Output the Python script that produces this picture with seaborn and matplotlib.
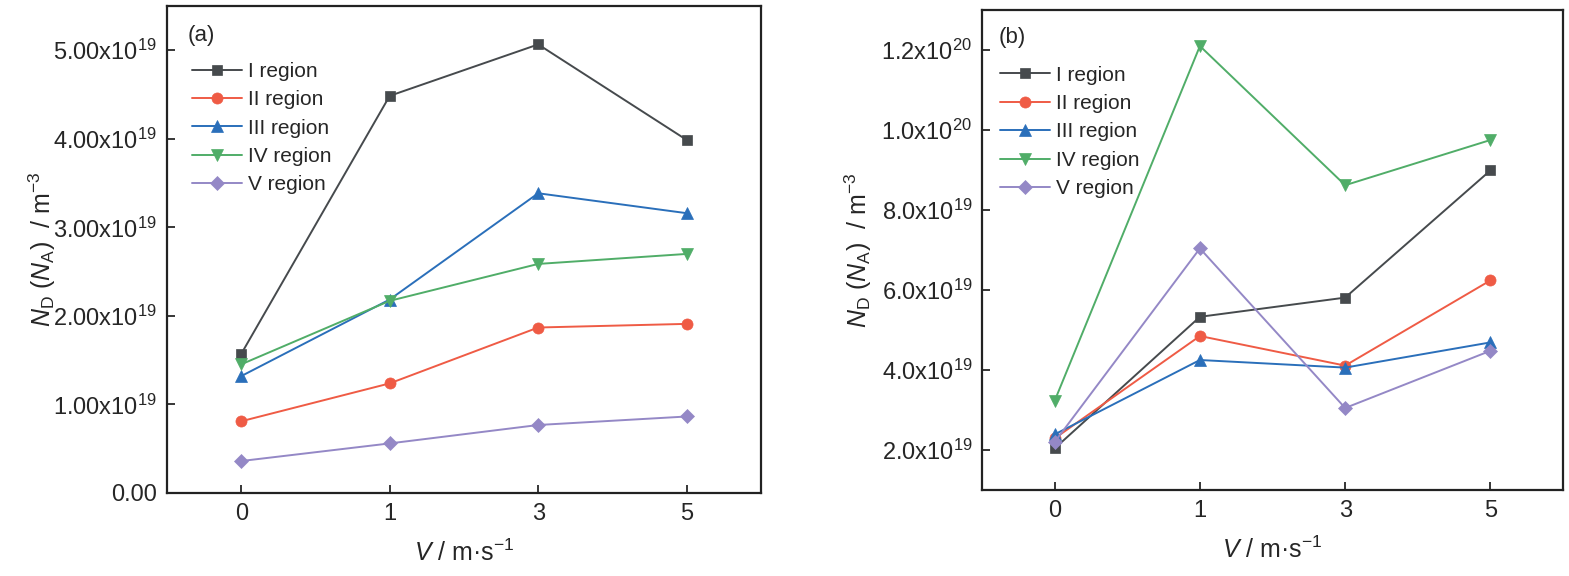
import numpy as np
import pandas as pd
import matplotlib
matplotlib.use("Agg")
import matplotlib.pyplot as plt
import seaborn as sns

# ---------------------------------------------------------------
# data
# ---------------------------------------------------------------
speeds = ["0", "1", "3", "5"]
regions = ["I region", "II region", "III region", "IV region", "V region"]

nd_a_I = [1.57e19, 4.485e19, 5.066e19, 3.987e19]
nd_a_II = [0.81e19, 1.238e19, 1.869e19, 1.91e19]
nd_a_III = [1.32e19, 2.185e19, 3.385e19, 3.16e19]
nd_a_IV = [1.453e19, 2.17e19, 2.587e19, 2.70e19]
nd_a_V = [0.361e19, 0.56e19, 0.768e19, 0.864e19]

nd_b_I = [2.04e19, 5.33e19, 5.81e19, 8.99e19]
nd_b_II = [2.29e19, 4.85e19, 4.11e19, 6.24e19]
nd_b_III = [2.39e19, 4.25e19, 4.06e19, 4.69e19]
nd_b_IV = [3.23e19, 12.1e19, 8.62e19, 9.75e19]
nd_b_V = [2.2e19, 7.04e19, 3.05e19, 4.48e19]

yticks_a = [0, 1e19, 2e19, 3e19, 4e19, 5e19]
yticks_b = [2e19, 4e19, 6e19, 8e19, 1.0e20, 1.2e20]

colors = ["#464a4d", "#ef5b45", "#2a6fba", "#50ad68", "#9488c6"]
markers = ["s", "o", "^", "v", "D"]
msizes = [7, 8, 8, 8, 7]


def sci_label(v, decimals):
    if v == 0:
        return "0." + "0" * decimals
    exp = int(np.floor(np.log10(abs(v))))
    mant = v / 10 ** exp
    return f"{mant:.{decimals}f}x10$^{{{exp}}}$"


def long_frame(series):
    rows = []
    for name, vals in zip(regions, series):
        for i, (s, v) in enumerate(zip(speeds, vals)):
            rows.append({"region": name, "pos": i, "speed": s, "nd": v})
    return pd.DataFrame(rows)


def draw_panel(ax, df, tag, yticks, ylim, decimals, tag_xy, leg_xy, ypad):
    for name, c, m, ms in zip(regions, colors, markers, msizes):
        sns.lineplot(data=df[df["region"] == name], x="pos", y="nd", ax=ax,
                     color=c, marker=m, markersize=ms, markeredgecolor=c,
                     markeredgewidth=0.5, linewidth=1.4, label=name)
    ax.set_xlim(-0.5, 3.5)
    ax.set_ylim(*ylim)
    ax.set_xticks(range(len(speeds)))
    ax.set_xticklabels(speeds)
    ax.set_yticks(yticks)
    ax.set_yticklabels([sci_label(v, decimals) for v in yticks])
    ax.tick_params(direction="in", length=6, width=1.3, labelsize=17, pad=7)
    for sp in ax.spines.values():
        sp.set_visible(True)
        sp.set_linewidth(1.6)
        sp.set_color("#222222")
    ax.set_xlabel("$V$ / m·s$^{-1}$", fontsize=18, labelpad=11)
    ax.set_ylabel("$N_\\mathrm{D}$ ($N_\\mathrm{A}$)  / m$^{-3}$", fontsize=18, labelpad=ypad)
    ax.text(tag_xy[0], tag_xy[1], tag, transform=ax.transAxes, fontsize=16, va="center")
    ax.legend(loc="upper left", bbox_to_anchor=leg_xy, frameon=False,
              fontsize=15, handlelength=2.4, handletextpad=0.3, labelspacing=0.45,
              borderaxespad=0.0, borderpad=0.0)


sns.set_style("ticks")
plt.rcParams["font.family"] = ["Liberation Sans", "DejaVu Sans"]
plt.rcParams["mathtext.fontset"] = "custom"
plt.rcParams["mathtext.rm"] = "Liberation Sans"
plt.rcParams["mathtext.it"] = "Liberation Sans:italic"
plt.rcParams["mathtext.bf"] = "Liberation Sans:bold"

fig = plt.figure(figsize=(15.69, 5.76), dpi=100)
ax_a = fig.add_axes([0.1064, 0.1441, 0.3786, 0.8455])
ax_b = fig.add_axes([0.6259, 0.1493, 0.3703, 0.8333])

df_a = long_frame([nd_a_I, nd_a_II, nd_a_III, nd_a_IV, nd_a_V])
df_b = long_frame([nd_b_I, nd_b_II, nd_b_III, nd_b_IV, nd_b_V])

draw_panel(ax_a, df_a, "(a)", yticks_a, (0, 5.5e19), 2,
           (0.034, 0.94), (0.042, 0.885), -3.5)
draw_panel(ax_b, df_b, "(b)", yticks_b, (1.0e19, 1.3e20), 1,
           (0.029, 0.942), (0.031, 0.884), 5)

fig.savefig("out.png", dpi=100)
